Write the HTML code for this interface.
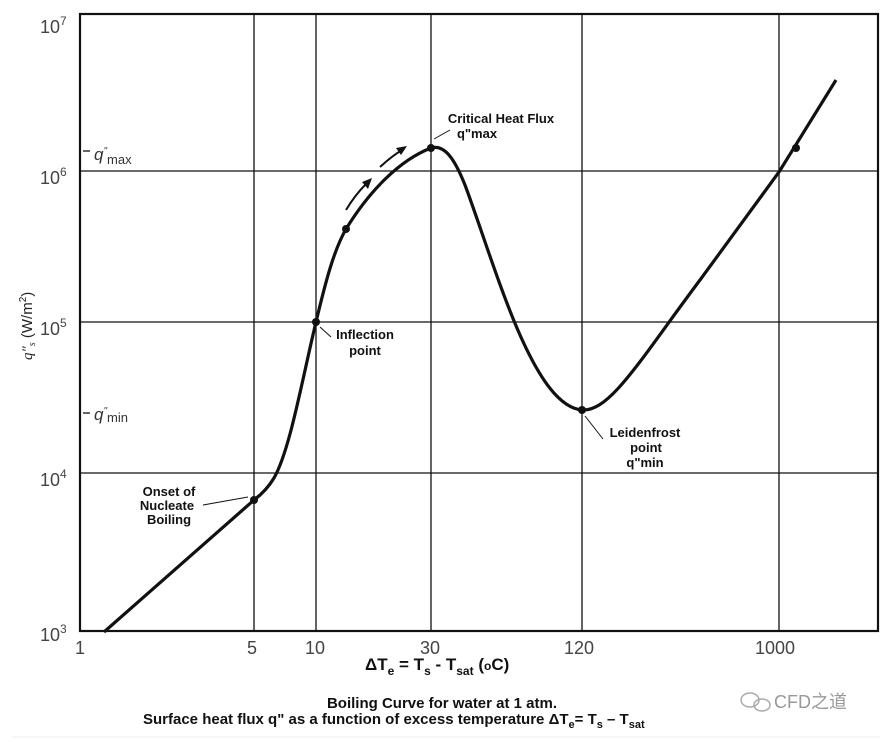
<!DOCTYPE html>
<html><head><meta charset="utf-8"><style>
body{margin:0;background:#fff}
svg text{font-family:"Liberation Sans",sans-serif}
</style></head><body>
<svg width="886" height="740" viewBox="0 0 886 740" xmlns="http://www.w3.org/2000/svg">
<rect width="886" height="740" fill="#fff"/>
<g stroke="#111" stroke-width="1.3" fill="none">
<line x1="254" y1="14" x2="254" y2="631"/>
<line x1="316" y1="14" x2="316" y2="631"/>
<line x1="431" y1="14" x2="431" y2="631"/>
<line x1="582" y1="14" x2="582" y2="631"/>
<line x1="779" y1="14" x2="779" y2="631"/>
<line x1="80" y1="171" x2="878" y2="171"/>
<line x1="80" y1="322" x2="878" y2="322"/>
<line x1="80" y1="473" x2="878" y2="473"/>
<line x1="83" y1="151" x2="90" y2="151"/>
<line x1="83" y1="413" x2="90" y2="413"/>
</g>
<rect x="80" y="14" width="798" height="617" fill="none" stroke="#111" stroke-width="2.2"/>
<path d="M104,632 L254,500 C262,494 268,488 274,478 C290,450 302,380 316,322 C326,280 334,250 346,229 C370,190 400,160 431,148 C445,144 455,160 465,185 C480,225 500,290 520,335 C540,380 560,408 582,410 C610,412 640,360 700,280 L779,172 L836,80" fill="none" stroke="#111" stroke-width="3.2"/>
<g fill="#111">
<circle cx="254" cy="500" r="4"/><circle cx="316" cy="322" r="4"/><circle cx="346" cy="229" r="4"/>
<circle cx="431" cy="148" r="4"/><circle cx="582" cy="410" r="4"/><circle cx="796" cy="148" r="4"/>
</g>
<g stroke="#111" stroke-width="2" fill="none">
<path d="M346,210 Q355,195 366,184"/><path d="M380,167 Q392,156 402,150"/>
</g>
<polygon points="372,178 362,182 368,189" fill="#111"/>
<polygon points="407,146 396,148 401,155" fill="#111"/>
<g stroke="#111" stroke-width="1">
<line x1="203" y1="505" x2="248" y2="497"/>
<line x1="320" y1="327" x2="331" y2="337"/>
<line x1="434" y1="139" x2="450" y2="130"/>
<line x1="585" y1="416" x2="603" y2="439"/>
</g>
<g font-size="18" fill="#444">
<text x="40" y="33">10<tspan font-size="12" dy="-8">7</tspan></text>
<text x="40" y="184">10<tspan font-size="12" dy="-8">6</tspan></text>
<text x="40" y="335">10<tspan font-size="12" dy="-8">5</tspan></text>
<text x="40" y="486">10<tspan font-size="12" dy="-8">4</tspan></text>
<text x="40" y="641">10<tspan font-size="12" dy="-8">3</tspan></text>
<text x="75" y="654">1</text><text x="247" y="654">5</text><text x="305" y="654">10</text>
<text x="420" y="654">30</text><text x="564" y="654">120</text><text x="755" y="654">1000</text>
</g>
<text x="94" y="160" font-size="17" fill="#333" font-family="Liberation Serif" font-style="italic">q<tspan font-size="10" dy="-6">"</tspan><tspan font-size="13" dy="10" font-style="normal" font-family="Liberation Sans">max</tspan></text>
<text x="94" y="420" font-size="17" fill="#333" font-family="Liberation Serif" font-style="italic">q<tspan font-size="10" dy="-6">"</tspan><tspan font-size="13" dy="8" font-style="normal" font-family="Liberation Sans">min</tspan></text>
<text transform="translate(32,360) rotate(-90)" font-size="15" fill="#222"><tspan font-style="italic" font-family="Liberation Serif">q"<tspan font-size="10" dy="3">s</tspan></tspan><tspan dy="-3"> (W/m</tspan><tspan font-size="10" dy="-6">2</tspan><tspan dy="6">)</tspan></text>
<g font-size="13" font-weight="bold" fill="#111" text-anchor="middle">
<text x="169" y="496">Onset of</text><text x="167" y="510">Nucleate</text><text x="169" y="524">Boiling</text>
<text x="365" y="339">Inflection</text><text x="365" y="355">point</text>
<text x="501" y="123">Critical Heat Flux</text><text x="477" y="138">q"max</text>
<text x="645" y="437">Leidenfrost</text><text x="646" y="452">point</text><text x="645" y="467">q"min</text>
</g>
<text x="365" y="670" font-size="17" font-weight="bold" fill="#111">ΔT<tspan font-size="12" dy="5">e</tspan><tspan dy="-5"> = T</tspan><tspan font-size="12" dy="5">s</tspan><tspan dy="-5"> - T</tspan><tspan font-size="12" dy="5">sat</tspan><tspan dy="-5"> (</tspan><tspan font-size="12">o</tspan>C)</text>
<text x="442" y="708" font-size="15" font-weight="bold" fill="#111" text-anchor="middle">Boiling Curve for water at 1 atm.</text>
<text x="143" y="724" font-size="15" font-weight="bold" fill="#111">Surface heat flux q" as a function of excess temperature ΔT<tspan font-size="11" dy="4">e</tspan><tspan dy="-4">= T</tspan><tspan font-size="11" dy="4">s</tspan><tspan dy="-4"> – T</tspan><tspan font-size="11" dy="4">sat</tspan></text>
<g fill="none" stroke="#aaa" stroke-width="1.5"><ellipse cx="750" cy="700" rx="9" ry="7"/><ellipse cx="762" cy="705" rx="8" ry="6"/></g>
<text x="774" y="708" font-size="18" fill="#999" font-family="Liberation Sans, Noto Sans CJK SC, sans-serif">CFD之道</text>
<line x1="12" y1="737" x2="880" y2="737" stroke="#eee"/>
</svg>
</body></html>
